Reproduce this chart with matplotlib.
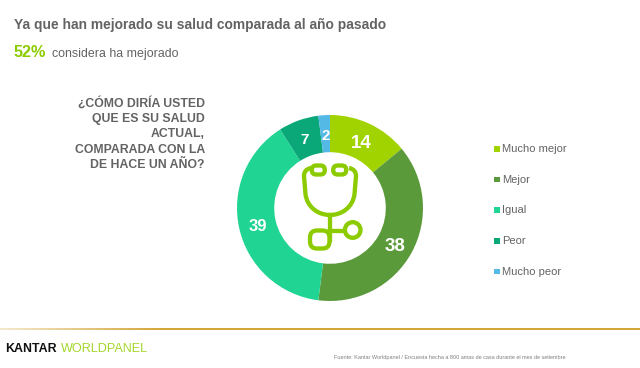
#!/usr/bin/python3

import numpy as np
import matplotlib
matplotlib.use("Agg")
import matplotlib.pyplot as plt
from matplotlib.patches import Circle, FancyBboxPatch, PathPatch, Rectangle
from matplotlib.path import Path

plt.rcParams["font.family"] = ["Liberation Sans", "DejaVu Sans"]

categories = ["Mucho mejor", "Mejor", "Igual", "Peor", "Mucho peor"]
values = [14, 38, 39, 7, 2]
colors = ["#A0D300", "#5B9A3B", "#20D494", "#0AA878", "#55B9E6"]

title = "Ya que han mejorado su salud comparada al año pasado"
highlight = "52%"
highlight_text = "considera ha mejorado"
question = "¿CÓMO DIRÍA USTED\nQUE ES SU SALUD\nACTUAL,\nCOMPARADA CON LA\nDE HACE UN AÑO?"
source = "Fuente: Kantar Worldpanel / Encuesta hecha a 800 amas de casa durante el mes de setiembre"

GREY = "#636363"
LIME = "#8CCB00"


def draw_icon(ax):
    # stethoscope, pixel coordinates
    lw = 3.1
    verts = [(311, 168), (306, 169), (304, 172), (304, 176), (305.5, 194),
             (307, 207), (318, 215), (330, 215), (342, 215), (353, 207), (354.5, 194),
             (356, 176), (356, 172), (354, 169), (349, 168)]
    codes = [Path.MOVETO, Path.CURVE4, Path.CURVE4, Path.CURVE4, Path.LINETO,
             Path.CURVE4, Path.CURVE4, Path.CURVE4, Path.CURVE4, Path.CURVE4, Path.CURVE4,
             Path.LINETO, Path.CURVE4, Path.CURVE4, Path.CURVE4]
    ax.add_patch(PathPatch(Path(verts, codes), fc="none", ec=LIME, lw=lw, zorder=3))
    for cx in (318.3, 339.7):
        ax.add_patch(FancyBboxPatch((cx - 6.5, 165.5), 13, 9, boxstyle="round,pad=0,rounding_size=4.4",
                                    fc="white", ec=LIME, lw=lw, zorder=4))
    ax.plot([329.5, 329.5], [215, 240], color=LIME, lw=lw, zorder=3)
    ax.plot([329.5, 345], [231, 231], color=LIME, lw=lw, zorder=3)
    ax.add_patch(FancyBboxPatch((310, 230.5), 19.5, 18, boxstyle="round,pad=0,rounding_size=7",
                                fc="none", ec=LIME, lw=lw, zorder=3))
    ax.add_patch(Circle((352.7, 230), 7.8, fc="white", ec=LIME, lw=lw, zorder=4))


def main():
    fig = plt.figure(figsize=(6.4, 3.68), dpi=100, facecolor="white")

    # overlay in pixel coordinates for text and decoration
    bg = fig.add_axes([0, 0, 1, 1])
    bg.axis("off")

    bg.text(14, 24.5, title, fontsize=9.87, fontweight="bold", color=GREY, va="center")
    bg.text(14, 52.5, highlight, fontsize=11.7, fontweight="bold", color=LIME, va="center")
    bg.text(52, 53.5, highlight_text, fontsize=8.95, color=GREY, va="center")
    bg.text(205, 134, question, fontsize=8.8, fontweight="bold", color=GREY,
            ha="right", va="center", linespacing=1.36)

    # legend
    for i, (name, col) in enumerate(zip(categories, colors)):
        y = 149 + i * 30.7
        bg.add_patch(Rectangle((494, y - 3), 5.5, 5.5, color=col, lw=0))
        bg.text(502, y, name, fontsize=8, color=GREY, va="center")

    # gold rule, fades out on the left
    grad = np.clip(0.25 + np.linspace(0, 1, 256) * 3, 0, 1)
    rgba = np.ones((1, 256, 4))
    rgba[..., :3] = matplotlib.colors.to_rgb("#D4A63A")
    rgba[..., 3] = grad
    bg.imshow(rgba, extent=(0, 640, 330, 328), aspect="auto", zorder=1)
    bg.set_xlim(0, 640)
    bg.set_ylim(368, 0)

    # logo
    bg.text(5, 349.5, "KANTAR", fontsize=8.9, fontweight="bold", color="#111111", va="center")
    bg.text(60.5, 349.5, "WORLDPANEL", fontsize=9.1, color="#A5D62B", va="center")
    bg.text(334, 357, source, fontsize=4.0, color="#808080", va="center")

    # donut
    ax = fig.add_axes([(330 - 93) / 640, (368 - 208 - 93) / 368, 186 / 640, 186 / 368])
    ax.pie(values, colors=colors, startangle=90, counterclock=False, radius=1,
           wedgeprops={"width": 0.4, "linewidth": 0},
           autopct=lambda p: f"{p:.0f}", pctdistance=0.8,
           textprops={"color": "white", "fontweight": "bold", "fontsize": 12})
    ax.set_xlim(-1, 1)
    ax.set_ylim(-1, 1)
    for t, size in zip(ax.texts[1::2], [13.5, 13.5, 12, 11, 11]):
        t.set_fontsize(size)
        x, y = t.get_position()
        t.set_position((x, y - 0.025))

    draw_icon(bg)

    fig.savefig("out.png", dpi=100)


if __name__ == "__main__":
    main()
